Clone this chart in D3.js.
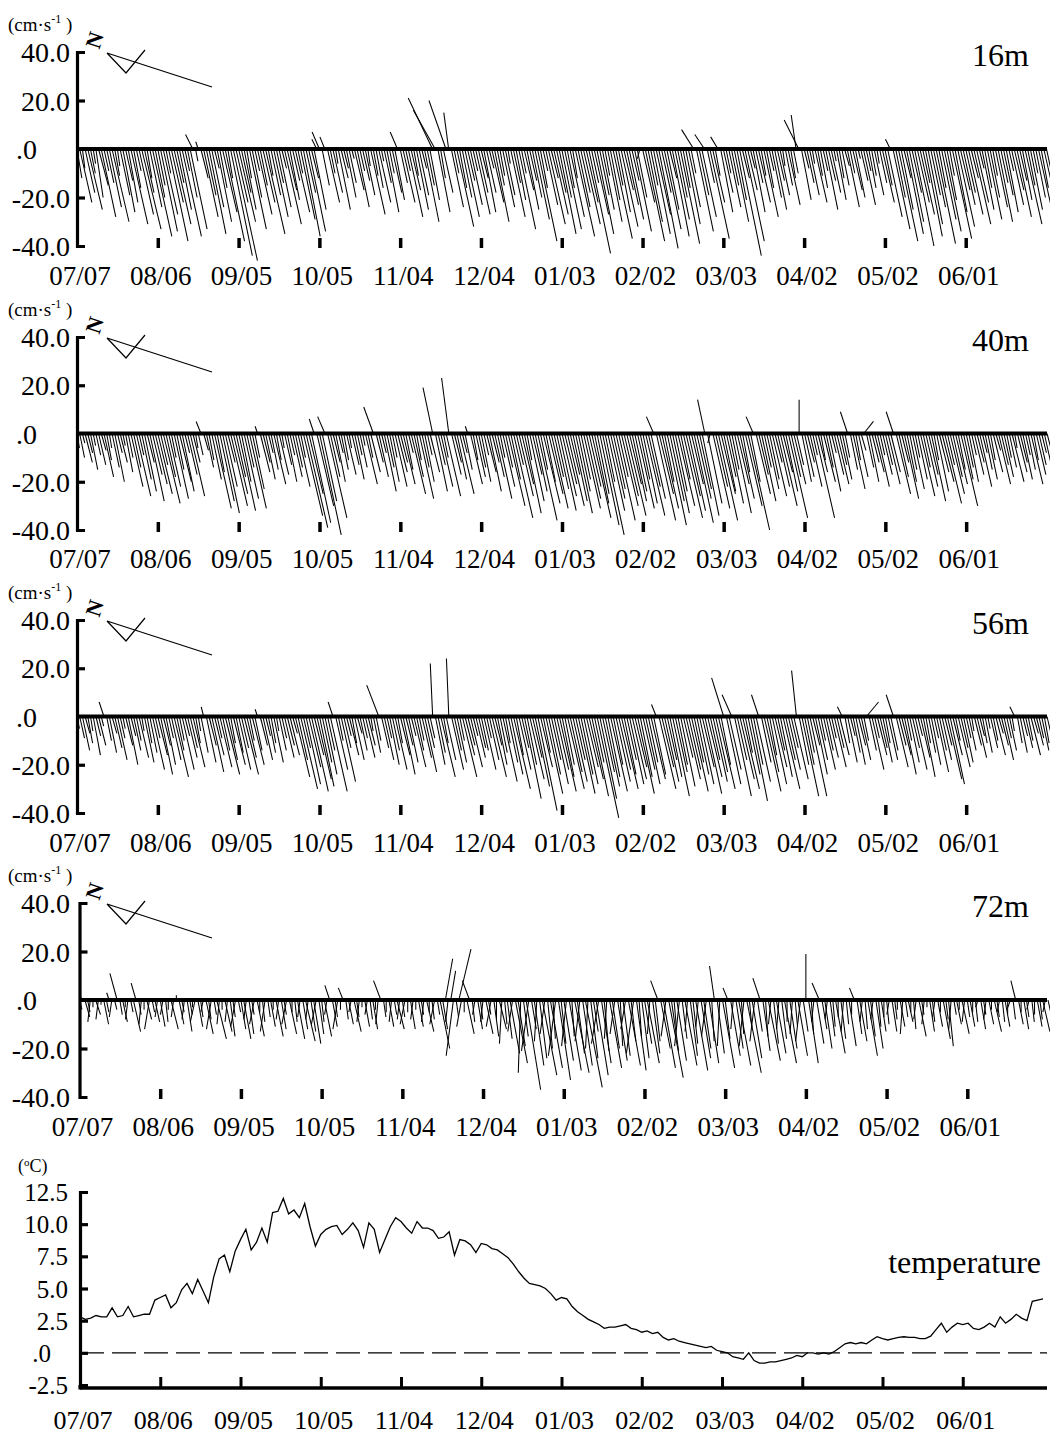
<!DOCTYPE html>
<html><head><meta charset="utf-8">
<script src="https://cdn.jsdelivr.net/npm/d3@7"></script>
<style>
body{margin:0;background:#fff}
svg{display:block}
text{font-family:"Liberation Serif","Times New Roman",serif;fill:#000}
</style></head>
<body><svg id="c" width="1050" height="1434"></svg>
<script>
// ---------------- data ----------------
const dateLabels = ["07/07","08/06","09/05","10/05","11/04","12/04","01/03","02/02","03/03","04/02","05/02","06/01"];
const tickDays = [0,30,60,90,120,150,180,210,240,270,300,330];
const depthLabels = ["16m","40m","56m","72m"];
const speedTicks = [40,20,0,-20,-40];
const speedTickLabels = ["40.0","20.0",".0","-20.0","-40.0"];
const tempTicks = [12.5,10,7.5,5,2.5,0,-2.5];
const tempTickLabels = ["12.5","10.0","7.5","5.0","2.5",".0","-2.5"];

// daily current components (cm/s), day 0 = 07/07
const v16 = [
-12,-22,-8,-18,-25,-10,-6,-20,-15,-28,-9,-14,-24,-30,-11,-7,-19,-26,-13,-22,-31,-16,-9,-27,-33,-18,-12,-24,-36,-20,
-15,-34,-27,-10,-38,-22,-31,-14,-25,-36,-9,-20,-33,6,-5,3,-12,-28,-19,-35,-24,-8,-30,-16,-26,-38,-12,-44,-46,-22,
-30,-18,-25,-12,-33,-20,-9,-27,-15,-22,-35,-11,-19,-28,-14,-24,-8,-31,-17,-21,-13,-26,-10,-29,-36,-18,-34,-12,-25,4,
7,-15,5,-22,-10,-18,-6,-25,-12,-8,-20,-14,-4,-17,-24,-9,-13,-19,-7,-27,-11,-16,-22,-5,-14,-26,-10,-18,-21,7,
-14,-22,-9,-28,-17,-11,-25,-19,-8,-30,-15,-21,21,16,-26,-12,-18,20,15,-24,-10,-32,-16,-20,-28,-13,-23,-9,-27,-18,
-12,-26,-18,-8,-22,-30,-15,-11,-24,-19,-6,-28,-14,-21,-33,-10,-17,-25,-13,-20,-29,-38,-16,-9,-23,-31,-12,-27,-18,-35,
-20,-33,-16,-28,-12,-36,-24,-18,-31,-22,-43,-14,-27,-35,-19,-25,-11,-30,-21,-37,-15,-26,-32,-17,-23,-29,-13,-34,-20,-4,
-22,-38,-30,-15,-35,-27,-41,-18,-33,-25,-12,-36,-29,-20,-39,-16,-31,-24,-10,8,-34,-19,-28,6,-14,-37,-22,-11,5,-26,
-18,-10,-24,-15,-30,-21,-44,-12,-38,-17,-8,-26,-14,-22,-11,-28,-16,-9,-20,-25,-13,-19,-7,-15,-23,-12,-10,14,12,-21,
-8,-14,-19,-6,-22,-11,-16,-9,-25,-13,-18,-5,-21,-12,-15,-7,-24,-10,-17,-20,-4,-13,-23,-9,-16,-11,-19,-6,-14,-22,
-15,-28,4,-33,-20,-38,-25,-12,-35,-30,-18,-40,-22,-27,-14,-36,-31,-19,-24,-39,-16,-29,-34,-21,-11,-37,-26,-32,-17,-23,
-18,-27,-12,-31,-22,-8,-25,-16,-29,-20,-11,-24,-30,-14,-19,-26,-9,-23,-17,-28,-13,-21,-31,-15,-25,-10,-20,-27,-16,-22,-28];
const u16 = [
2,5,1,4,6,2,1,3,4,6,2,3,5,7,2,1,4,5,3,4,7,3,2,6,8,4,2,5,8,4,
3,7,6,2,8,5,7,3,5,8,2,4,7,-3,1,-1,3,6,4,7,5,2,6,3,6,8,2,9,10,5,
7,4,5,2,7,4,2,6,3,5,8,2,4,6,3,5,2,7,4,4,3,6,2,6,7,4,7,3,5,-2,
-3,3,-2,5,2,4,1,5,3,2,4,3,1,4,5,2,3,4,1,6,2,3,5,1,3,5,2,4,4,-3,
3,5,2,6,4,2,5,4,2,6,3,4,-10,-9,5,2,4,-7,-2,5,2,7,3,4,6,3,5,2,6,4,
3,5,4,2,5,6,3,2,5,4,1,6,3,4,7,2,4,5,3,4,6,8,3,2,5,7,3,6,4,7,
4,7,3,6,2,8,5,4,7,5,9,3,6,7,4,5,2,6,4,8,3,5,7,4,5,6,3,7,4,-1,
5,8,6,3,7,6,8,4,7,5,3,7,6,4,8,3,6,5,2,-5,7,4,6,-4,3,8,5,2,-3,5,
4,2,5,3,6,4,9,3,8,4,2,5,3,5,2,6,3,2,4,5,3,4,1,3,5,2,2,-2,-6,4,
2,3,4,1,5,2,3,2,5,3,4,1,4,2,3,2,5,2,4,4,1,3,5,2,3,2,4,1,3,5,
3,6,-2,7,4,8,5,3,7,6,4,8,5,6,3,7,6,4,5,8,3,6,7,4,2,8,5,7,4,5,
4,6,3,7,5,2,5,3,6,4,2,5,6,3,4,5,2,5,4,6,3,4,7,3,5,2,4,6,3,5,6];

const v40 = [
-6,-10,-4,-12,-8,-15,-5,-9,-13,-7,-18,-11,-6,-14,-20,-8,-12,-5,-16,-10,-22,-14,-26,-9,-19,-24,-12,-28,-17,-21,
-25,-13,-29,-18,-22,-10,-27,-15,-20,-24,-8,-17,-26,-12,-6,-9,5,-7,-14,-11,-19,-31,-16,-28,-33,-22,-12,-30,-25,-18,
-32,-20,-27,-14,-31,-23,-10,3,-16,-12,-19,-8,-15,-21,-11,-17,-6,-13,-20,-9,-18,-14,-22,-10,-34,-39,-25,-37,6,-30,
-42,-28,7,-35,-18,-12,-20,-8,-15,-11,-17,-6,-13,-19,-9,-14,-5,-21,-10,-16,11,-12,-18,-8,-24,-14,-20,-10,-22,-16,
-12,-21,-15,-8,-25,-18,-11,-27,-14,-20,-9,-16,19,-24,-13,-22,-10,-26,23,-17,-12,-19,-25,-8,-15,3,-21,-11,-18,-14,
-20,-9,-16,-24,-12,-18,-27,-10,-22,-14,-30,-19,-35,-13,-26,-21,-33,-11,-28,-17,-24,-36,-15,-29,-20,-25,-31,-18,-23,-32,
-26,-21,-30,-17,-28,-33,-24,-19,-31,-27,-22,-35,-29,-25,-38,-42,-20,-32,-27,-23,-36,-18,-30,-26,-34,-21,-28,-24,-31,-19,
-29,-34,-22,-27,7,-36,-25,-31,-20,-38,-28,-33,-24,-30,-19,-35,-26,-32,-21,-37,-27,-23,-34,14,-29,-4,-31,-22,-36,-25,
-24,-18,-29,-15,-33,-21,-27,-16,-30,-40,-20,7,-25,-17,-28,-14,-23,-19,-26,-12,-22,-30,-16,-24,-35,-18,-21,-13,14,-20,
-18,-12,-22,-9,-35,-16,-11,-20,-14,-24,-8,-17,-21,-13,-19,-10,9,-15,-23,-11,-18,-7,5,-14,-20,-12,-16,-22,-9,-17,
-13,-21,-16,9,-25,-18,-12,-27,-20,-15,-23,-10,-19,-26,-14,-22,-17,-28,-11,-24,-16,-20,-29,-13,-25,-18,-21,-15,-30,-19,
-14,-20,-9,-17,-12,-22,-8,-15,-19,-11,-16,-7,-21,-13,-18,-10,-14,-20,-6,-16,-12,-19,-9,-15,-21,-11,-17,-13,-8,-18,-19];
const u40 = [
1,2,1,3,2,3,1,2,3,2,4,2,1,3,4,2,3,1,3,2,5,3,6,2,4,5,3,6,4,5,
6,3,7,4,5,2,6,3,5,5,2,4,6,3,1,2,-2,2,3,2,4,7,3,6,7,5,3,7,6,4,
7,4,6,3,7,5,2,-1,4,3,4,2,3,5,2,4,1,3,4,2,4,3,5,2,8,9,6,8,-2,7,
9,6,-3,8,4,3,4,2,3,2,4,1,3,4,2,3,1,5,2,4,-4,3,4,2,5,3,4,2,5,4,
3,5,3,2,6,4,2,6,3,4,2,4,-4,5,3,5,2,6,-3,4,3,4,6,2,3,-1,5,2,4,3,
4,2,4,5,3,4,6,2,5,3,7,4,8,3,6,5,7,2,6,4,5,8,3,7,4,6,7,4,5,7,
6,5,7,4,6,7,5,4,7,6,5,8,6,5,8,9,4,7,6,5,8,4,7,6,8,5,6,5,7,4,
6,8,5,6,-3,8,6,7,4,8,6,7,5,7,4,8,6,7,5,8,6,5,7,-3,6,-1,7,5,8,6,
5,4,6,3,7,5,6,3,7,9,4,-3,6,4,6,3,5,4,6,3,5,7,4,5,8,4,5,3,0,4,
4,3,5,2,8,4,2,5,3,5,2,4,5,3,4,2,-3,3,5,2,4,2,4,3,4,3,4,5,2,4,
3,5,4,-3,6,4,3,6,4,3,5,2,4,6,3,5,4,6,2,5,4,5,7,3,6,4,5,3,7,4,
3,4,2,4,3,5,2,3,4,2,4,2,5,3,4,2,3,5,1,4,3,4,2,3,5,2,4,3,2,4,5];

const v56 = [
-5,-9,-14,-7,-11,-6,-16,-8,-12,-4,6,-10,-15,-7,-13,-18,-9,-5,-12,-20,-8,-14,-10,-17,-6,-19,-11,-15,-22,-9,
-16,-24,-12,-20,-9,-18,-25,-14,-10,-22,-8,-17,-13,-21,-11,-6,-15,4,-19,-12,-23,-16,-9,-21,-14,-24,-18,-11,-20,-15,
-22,-13,-24,-17,-10,-20,-14,3,-12,-18,-8,-15,-11,-19,-6,-14,-9,-17,-12,-16,-7,-25,-18,-30,-13,-28,-21,-31,-16,-26,
-29,-19,-24,-14,-31,6,-22,-10,-27,-13,-8,-16,-11,-18,-7,-14,-9,-17,-12,-6,-15,-10,13,-13,-18,-9,-20,-14,-22,-11,
-16,-24,-12,-19,-8,-21,-14,-10,-17,-23,-13,-9,22,-20,-15,-25,-11,-18,24,-22,-14,-19,-10,-25,-16,-12,-21,-8,-17,-13,
-14,-22,-9,-18,-25,-12,-20,-15,-27,-11,-19,-24,-30,-16,-22,-13,-34,-20,-26,-17,-29,-39,-21,-15,-32,-24,-18,-28,-22,-31,
-25,-20,-30,-23,-27,-18,-32,-24,-28,-21,-26,-33,-19,-42,-34,-23,-29,-25,-31,-20,-27,-22,-30,-24,-18,-28,-26,-21,-32,-25,
-22,-28,-19,-26,-24,5,-30,-21,-27,-18,-25,-33,-23,-20,-29,-17,-26,-22,-31,-19,-24,-28,-21,-32,-25,-18,-27,-23,-30,-20,
16,-28,-22,9,-33,-18,-26,-30,-15,-24,-35,-20,-27,9,-19,-31,-23,-16,-28,-21,-14,-25,-30,-18,-22,-13,-26,19,-20,-33,
-20,-15,-33,-12,-24,-18,-10,-22,-14,-17,-9,-21,-13,-16,4,-11,-19,-8,-15,-20,-12,-18,-10,6,-14,-22,-9,-16,-13,-19,
-11,-18,-14,9,-21,-12,-16,-24,-10,-19,-13,-22,-8,-17,-25,-11,-15,-20,-9,-23,-14,-18,-12,-26,-28,-16,-10,-21,-13,-19,
-9,-14,-6,-12,-17,-8,-11,-15,-5,-13,-10,-16,-7,-12,-18,-9,-14,-6,4,-11,-15,-8,-13,-10,-16,-7,-12,-9,-14,-11,-17];
const u56 = [
1,2,3,2,2,1,3,2,3,1,-2,2,3,2,3,4,2,1,3,4,2,3,2,4,1,4,2,3,5,2,
4,5,3,4,2,4,6,3,2,5,2,4,3,5,2,1,3,-1,4,3,5,4,2,5,3,6,4,2,5,3,
5,3,6,4,2,5,3,-1,3,4,2,3,2,4,1,3,2,4,3,4,2,6,4,7,3,6,5,7,4,6,
6,4,5,3,7,-2,5,2,6,3,2,4,2,4,2,3,2,4,3,1,3,2,-5,3,4,2,4,3,5,2,
4,5,3,4,2,5,3,2,4,5,3,2,-1,4,3,6,2,4,-1,5,3,4,2,6,4,3,5,2,4,3,
3,5,2,4,6,3,4,3,6,2,4,5,7,3,5,3,7,4,6,4,6,8,5,3,7,5,4,6,5,7,
5,4,7,5,6,4,7,5,6,5,6,7,4,9,7,5,6,5,7,4,6,5,7,5,4,6,6,5,7,5,
5,6,4,6,5,-2,7,5,6,4,5,7,5,4,6,4,6,5,7,4,5,6,5,7,6,4,6,5,7,4,
-5,6,5,-4,7,4,6,7,3,5,7,4,6,-3,4,7,5,3,6,5,3,5,7,4,5,3,6,-2,4,7,
4,3,7,3,5,4,2,5,3,4,2,5,3,4,-2,2,4,2,3,4,3,4,2,5,3,5,2,4,3,4,
2,4,3,-3,5,3,4,5,2,4,3,5,2,4,5,2,3,4,2,5,3,4,3,6,6,4,2,5,3,4,
2,3,1,3,4,2,2,3,1,3,2,4,2,3,4,2,3,1,-2,2,3,2,3,2,4,2,3,2,3,2,4];

const v72 = [
-4,2,-7,-5,-9,-3,-6,-8,-2,-10,-5,3,-7,-4,11,-6,-9,-3,-8,-5,-13,7,-6,-10,-4,-8,-12,-5,-9,-7,
-11,-6,-9,-4,-12,-7,2,-10,-5,-8,-13,-6,-3,-9,-11,-7,-5,-14,-8,-12,-6,-16,-10,-4,-13,-9,-15,-7,-11,-5,
-12,-16,-8,-14,-6,-10,-15,-5,-9,-13,-7,-11,-4,-15,-8,-12,-6,-10,-14,-5,-9,-16,-7,-12,-17,-8,-13,-18,-10,-14,
-9,-15,-6,6,-11,-7,-12,-4,5,-8,-10,-5,-13,-7,-9,-3,-11,-6,-8,-12,-4,-10,8,-7,-5,-11,-9,-6,-12,-8,
-7,-10,-5,-12,-8,-4,-11,-6,-9,-13,-5,-8,-10,-6,-20,-12,17,-9,12,-23,-7,21,-11,-5,-14,8,-9,-6,-12,-8,
-9,-14,-6,-11,-15,-8,-12,-18,-10,-16,-22,-13,-26,-19,-30,-15,-37,-21,-12,-27,-17,-24,-31,-14,-20,-28,-16,-23,-33,-18,
-25,-19,-29,-15,-30,-22,-17,-27,-36,-20,-24,-13,-31,-18,-26,-21,-16,-28,-20,-14,-25,-19,-23,-12,-27,-17,-22,-29,-15,-24,
-18,-26,-14,-22,-17,8,-20,-28,-15,-32,-21,-12,-25,-19,-16,-27,-13,-23,-18,-29,-11,-24,-20,-15,-26,-17,14,-22,-19,-28,
-16,5,-23,-12,-20,-27,-14,-19,-30,-11,-24,-17,-13,9,-21,-15,-25,-10,-18,-22,-12,-16,-26,-9,-20,-14,-11,-23,-17,-13,
19,-26,-14,-9,-18,7,-12,-20,-8,-15,-11,-22,-7,-16,-13,-10,-19,-6,5,-14,-17,-9,-12,-23,-15,-8,-20,-11,-13,-7,
-10,-6,-13,-8,-4,-11,-14,-7,-9,-5,-12,-8,-15,-6,-10,-3,-13,-9,-7,-11,-5,-16,-8,-19,-12,-6,-10,-4,-14,-9,
-7,-11,-5,-9,-3,-12,-6,-8,-10,-4,-13,-7,-5,-9,-11,-6,-3,-8,8,-10,-5,-12,-7,-4,-9,-6,-11,-8,-13,-5,-9];
const u72 = [
1,-1,2,1,-1,0,2,-1,0,2,1,-1,-1,1,-3,1,2,0,-1,1,3,-2,1,-1,0,2,-2,1,2,-1,
2,-1,1,0,3,-1,0,2,1,-1,2,1,0,-2,2,1,-1,3,1,-2,1,4,-1,0,3,-1,2,1,-2,1,
2,3,-1,2,1,-2,3,0,1,-2,1,2,0,3,-1,2,1,-2,3,0,1,3,-1,2,4,-1,2,3,-2,2,
1,3,-1,-2,2,1,-2,0,-2,1,2,-1,3,1,-1,0,2,-1,1,2,0,-1,-3,1,0,2,-1,1,3,-1,
1,-2,0,2,-1,0,2,1,-1,3,0,1,-2,1,4,2,3,-1,2,-3,1,5,-2,0,3,-3,1,-1,2,1,
-1,3,1,-2,2,0,3,-1,1,2,4,-2,5,3,-1,2,6,-3,2,4,-1,3,6,-2,2,5,1,-3,5,2,
4,-2,5,1,6,3,-2,4,7,-1,3,2,5,-3,4,2,-1,5,3,-2,4,1,3,-2,5,2,-3,4,1,3,
3,5,-1,3,2,-3,4,5,-2,6,3,1,4,-2,2,5,-1,3,2,5,-1,4,3,-2,4,1,-2,3,-1,5,
2,-2,4,-1,3,5,1,-2,6,1,4,-2,2,-3,3,1,5,-1,2,4,-1,2,5,0,3,-1,1,4,-2,2,
0,4,1,-1,3,-3,2,3,-1,2,1,4,0,2,-1,1,3,0,-2,2,3,-1,1,4,2,-1,3,1,2,0,
1,-1,2,1,0,2,-1,1,2,0,1,-1,3,1,-1,0,2,1,-1,2,0,3,1,2,-1,1,2,0,3,-1,
1,2,0,1,-1,2,1,-1,2,0,3,1,-1,1,2,0,-1,1,-2,2,0,2,1,-1,1,0,2,1,3,-1,2];

// temperature (°C), one value every 2 days from day 0 (07/07)
const tempStep = 2;
const temperature = [
2.8,2.6,2.7,2.9,2.8,2.8,3.5,2.8,2.9,3.6,2.8,2.9,3.0,3.0,4.1,
4.3,4.5,3.5,3.9,4.9,5.4,4.6,5.7,4.8,3.9,5.9,7.3,7.6,6.3,7.9,
8.8,9.6,8.0,8.6,9.7,8.6,10.9,11.0,12.0,10.8,11.1,10.5,11.6,9.8,8.3,
9.2,9.6,9.8,9.9,9.2,9.6,10.1,9.5,8.2,10.1,9.6,7.8,8.8,9.8,10.5,
10.2,9.7,9.3,10.2,9.7,9.7,9.5,8.9,9.0,9.4,7.6,8.8,8.7,8.4,7.8,
8.5,8.4,8.1,8.0,7.7,7.4,6.9,6.3,5.8,5.4,5.3,5.2,5.0,4.6,4.1,
4.3,4.2,3.6,3.2,2.9,2.6,2.4,2.2,1.9,2.0,2.0,2.1,2.2,1.9,1.8,
1.6,1.7,1.5,1.6,1.2,1.0,1.1,0.9,0.8,0.7,0.6,0.5,0.4,0.5,0.2,
0.1,0.0,-0.3,-0.4,-0.5,0.0,-0.6,-0.8,-0.8,-0.7,-0.7,-0.6,-0.5,-0.4,-0.2,
-0.3,0.0,0.0,-0.1,0.0,-0.1,0.1,0.4,0.7,0.8,0.7,0.8,0.7,1.0,1.25,
1.1,1.0,1.1,1.2,1.25,1.2,1.2,1.1,1.1,1.3,1.8,2.3,1.6,2.0,2.3,
2.2,2.3,1.9,1.8,2.0,2.3,2.0,2.8,2.3,2.6,3.0,2.7,2.5,4.0,4.1,4.2];

// ---------------- drawing ----------------
const svg = d3.select("#c");
const series = [[u16,v16],[u40,v40],[u56,v56],[u72,v72]];
const panels = [
  {x0:77,  x1:1046.5, yTop:52,  yBot:246,  lblY:285, lineEnd:1047},
  {x0:77,  x1:1047,   yTop:337, yBot:530,  lblY:568, lineEnd:1047},
  {x0:77,  x1:1047,   yTop:620, yBot:813,  lblY:852, lineEnd:1047},
  {x0:79.5,x1:1048,   yTop:903, yBot:1097, lblY:1136, lineEnd:1047}
];

panels.forEach((p, pi) => {
  const g = svg.append("g");
  const x = d3.scaleLinear().domain([0,360]).range([p.x0, p.x1]);
  const y = d3.scaleLinear().domain([-40,40]).range([p.yBot, p.yTop]);
  const k = y(0) - y(1); // px per cm/s
  const [u, v] = series[pi];
  const idx = d3.range(Math.min(u.length, v.length));

  // sticks
  g.append("g").selectAll("line").data(idx).join("line")
    .attr("x1", i => x(i)).attr("y1", y(0))
    .attr("x2", i => x(i) + u[i]*k).attr("y2", i => y(v[i]))
    .attr("stroke", "#000").attr("stroke-width", 1.05);

  // zero line
  g.append("line").attr("x1", p.x0).attr("x2", p.lineEnd)
    .attr("y1", y(0)).attr("y2", y(0))
    .attr("stroke", "#000").attr("stroke-width", 4);

  // y axis (bracket)
  const ax = g.append("g").attr("transform", `translate(${p.x0},0)`)
    .call(d3.axisRight(y).tickValues([20,-20]).tickSizeInner(8).tickSizeOuter(8).tickFormat(""));
  ax.select(".domain").attr("stroke-width", 3.2);
  ax.selectAll(".tick line").attr("stroke-width", 3.2);

  // y labels
  g.selectAll("text.yl").data(speedTicks).join("text").attr("class","yl")
    .attr("x", (d,i) => speedTickLabels[i] === ".0" ? 37 : 70)
    .attr("y", d => y(d) + 10)
    .attr("text-anchor", "end")
    .attr("font-size", 28)
    .text((d,i) => speedTickLabels[i]);

  // date ticks (small marks above -40 level)
  const tx = g.append("g").attr("transform", `translate(0,${p.yBot+2})`)
    .call(d3.axisTop(x).tickValues(tickDays.slice(1)).tickSize(10).tickFormat(""));
  tx.select(".domain").remove();
  tx.selectAll(".tick line").attr("stroke-width", 3.5);

  // date labels
  g.selectAll("text.dl").data(tickDays).join("text").attr("class","dl")
    .attr("x", d => x(d) + 3).attr("y", p.lblY)
    .attr("text-anchor","middle").attr("font-size", 27)
    .text((d,i) => dateLabels[i]);

  // depth label
  g.append("text").attr("x", 1029).attr("y", p.yTop + 14)
    .attr("text-anchor","end").attr("font-size", 32).text(depthLabels[pi]);

  // unit label
  const ut = g.append("text").attr("x", 8).attr("y", p.yTop - 21).attr("font-size", 19);
  ut.append("tspan").text("(cm\u00B7s");
  ut.append("tspan").attr("dy", -8).attr("font-size", 12).text("-1");
  ut.append("tspan").attr("dy", 8).text(" )");

  // north indicator
  const ny = p.yTop;
  g.append("text").attr("font-size", 22).attr("font-weight", "bold")
    .attr("transform", `translate(97,${ny-11}) rotate(-72)`)
    .attr("text-anchor","middle").attr("dominant-baseline","middle").text("N");
  g.append("path")
    .attr("d", `M107,${ny+1} L212,${ny+35} M107,${ny+1} L126,${ny+21} L145,${ny-2}`)
    .attr("fill","none").attr("stroke","#000").attr("stroke-width",1.2);
});

// temperature panel
{
  const g = svg.append("g");
  const x0 = 80, xEnd = 1047, yAxisBottom = 1388;
  const x = d3.scaleLinear().domain([0,360]).range([x0, 1043]);
  const y = d3.scaleLinear().domain([-2.5,12.5]).range([1385, 1192]);

  // dashed zero line
  g.append("line").attr("x1", x0).attr("x2", xEnd).attr("y1", y(0)).attr("y2", y(0))
    .attr("stroke","#000").attr("stroke-width",1.3).attr("stroke-dasharray","24,8");

  // temperature line
  const line = d3.line().x((d,i) => x(i*tempStep)).y(d => y(d));
  g.append("path").datum(temperature).attr("d", line)
    .attr("fill","none").attr("stroke","#000").attr("stroke-width",1.3);

  // left axis
  const ay = g.append("g").attr("transform", `translate(${x0},0)`)
    .call(d3.axisRight(y).tickValues([10,7.5,5,2.5,0]).tickSizeInner(8).tickSizeOuter(8).tickFormat(""));
  ay.select(".domain").attr("stroke-width",3.2);
  ay.selectAll(".tick line").attr("stroke-width",3.2);
  g.append("line").attr("x1",x0).attr("x2",x0).attr("y1",1385).attr("y2",yAxisBottom+1.5)
    .attr("stroke","#000").attr("stroke-width",3.2);

  // bottom axis
  const ab = g.append("g").attr("transform", `translate(0,${yAxisBottom})`)
    .call(d3.axisTop(x).tickValues(tickDays.slice(1)).tickSizeInner(11).tickSizeOuter(0).tickFormat(""));
  ab.select(".domain").attr("d", `M${x0},0H${xEnd}`).attr("stroke-width",3.5);
  ab.selectAll(".tick line").attr("stroke-width",3);

  // tick labels
  g.selectAll("text.tl").data(tempTicks).join("text").attr("class","tl")
    .attr("x", (d,i) => tempTickLabels[i] === ".0" ? 51 : 68).attr("y", d => y(d) + 9)
    .attr("text-anchor","end").attr("font-size", 25)
    .text((d,i) => tempTickLabels[i]);

  g.selectAll("text.dl").data(tickDays).join("text").attr("class","dl")
    .attr("x", d => x(d) + 3).attr("y", 1429)
    .attr("text-anchor","middle").attr("font-size", 26)
    .text((d,i) => dateLabels[i]);

  const ct = g.append("text").attr("x", 18).attr("y", 1172).attr("font-size", 18);
  ct.append("tspan").text("(");
  ct.append("tspan").attr("dy",-6).attr("font-size",11).text("o");
  ct.append("tspan").attr("dy",6).text("C)");

  g.append("text").attr("x", 1041).attr("y", 1273).attr("text-anchor","end")
    .attr("font-size", 32).text("temperature");
}
</script>
</body></html>
